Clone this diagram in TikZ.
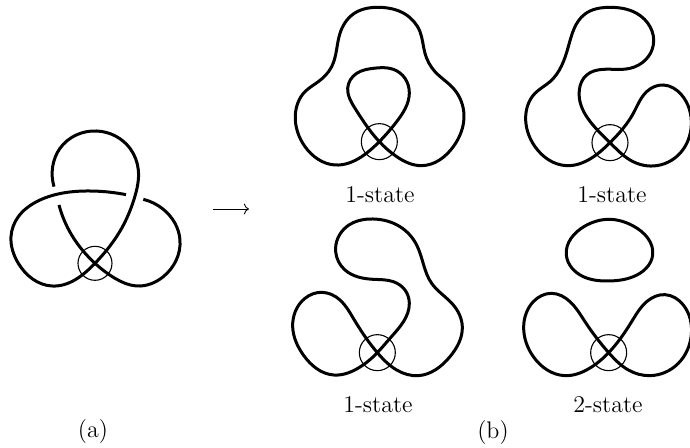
\documentclass[tikz,border=0pt]{standalone}
\usepackage{xcolor}
\usepackage{amsmath}
\usetikzlibrary{arrows.meta, hobby}
\tikzset{
  strand/.style={line width=1.5pt, color=black, line join=round, use Hobby shortcut},
  loopstrand/.style={strand, closed=true},
  marker/.style={line width=0.55pt, color=black},
  caption/.style={font=\large, text=black, inner sep=0pt},
  arrow/.style={-{Computer Modern Rightarrow}, line width=0.45pt, color=black}
}

\begin{document}
\begin{tikzpicture}[x=0.5pt, y=-0.5pt]
  \useasboundingbox (0,0) rectangle (690,448);

  % Trefoil with its two upper crossings
  \begin{scope}[shift={(0,120)}, scale=0.3333]
    \coordinate (Xa) at (285,430);
    \draw[strand] (162,200) .. (158,140) .. (180,85) .. (290,33) .. (390,85) .. (415,150) .. (403,235) .. (365,325) .. (285,430) .. (155,498) .. (55,430) .. (33,350) .. (55,290) .. (110,245) .. (260,213) .. (378,224);
    \draw[strand] (430,238) .. (490,268) .. (540,360) .. (490,470) .. (410,498) .. (345,475) .. (285,430) .. (215,345) .. (177,255);
    \draw[marker] (Xa) circle (51);
  \end{scope}

  \coordinate (tail) at (213,209);
  \coordinate (head) at (249,209);
  \draw[arrow] (tail) -- (head);

  % State 1, top left
  \begin{scope}[shift={(290,0)}, scale=0.3333]
    \coordinate (Xb) at (268,425);
    \draw[loopstrand] (268,425) .. (215,470) .. (135,495) .. (45,440) .. (16,345) .. (45,275) .. (85,245) .. (125,200) .. (150,100) .. (190,42) .. (270,22) .. (345,42) .. (390,95) .. (405,160) .. (435,215) .. (490,265) .. (522,345) .. (490,440) .. (395,497) .. (320,470) .. (268,425) .. (195,325) .. (173,265) .. (200,220) .. (250,205) .. (310,208) .. (345,235) .. (358,280) .. (320,365);
    \draw[marker] (Xb) circle (54);
  \end{scope}

  % State 2, top right
  \begin{scope}[shift={(490,0)}, scale=0.3333]
    \coordinate (Xc) at (360,428);
    \draw[loopstrand] (360,428) .. (300,477) .. (230,497) .. (135,440) .. (107,350) .. (135,280) .. (180,245) .. (235,140) .. (285,42) .. (360,22) .. (440,40) .. (490,135) .. (420,205) .. (340,208) .. (290,225) .. (268,270) .. (360,428) .. (420,480) .. (490,498) .. (570,460) .. (604,375) .. (575,285) .. (520,255) .. (470,275) .. (430,340);
    \draw[marker] (Xc) circle (54);
  \end{scope}

  % State 3, bottom left
  \begin{scope}[shift={(290,210)}, scale=0.3333]
    \coordinate (Xd) at (262,428);
    \draw[loopstrand] (262,428) .. (200,477) .. (130,495) .. (40,435) .. (8,350) .. (45,265) .. (95,247) .. (150,270) .. (190,325) .. (262,428) .. (320,480) .. (385,497) .. (480,440) .. (517,350) .. (490,285) .. (425,220) .. (380,105) .. (330,50) .. (250,27) .. (170,50) .. (137,125) .. (165,180) .. (250,208) .. (310,215) .. (345,240) .. (358,280) .. (300,385);
    \draw[marker] (Xd) circle (54);
  \end{scope}

  % State 4, bottom right
  \begin{scope}[shift={(490,210)}, scale=0.3333]
    \coordinate (Xe) at (356,428);
    \draw[loopstrand] (356,428) .. (295,477) .. (225,497) .. (130,440) .. (101,350) .. (130,275) .. (185,250) .. (240,275) .. (285,335) .. (356,428) .. (415,480) .. (480,497) .. (565,460) .. (604,375) .. (580,285) .. (525,254) .. (470,275) .. (425,335);
    \draw[loopstrand] (229,135) .. (285,48) .. (355,28) .. (430,48) .. (488,135) .. (430,200) .. (355,213) .. (280,200);
    \draw[marker] (Xe) circle (54);
  \end{scope}

  % Captions
  \node[caption] (stateb) at (380,195) {1-state};
  \node[caption] (statec) at (612,195) {1-state};
  \node[caption] (stated) at (378,405) {1-state};
  \node[caption] (statee) at (608,405) {2-state};
  \node[caption] (capa) at (93,432) {(a)};
  \node[caption] (capb) at (493,433) {(b)};
\end{tikzpicture}
\end{document}
